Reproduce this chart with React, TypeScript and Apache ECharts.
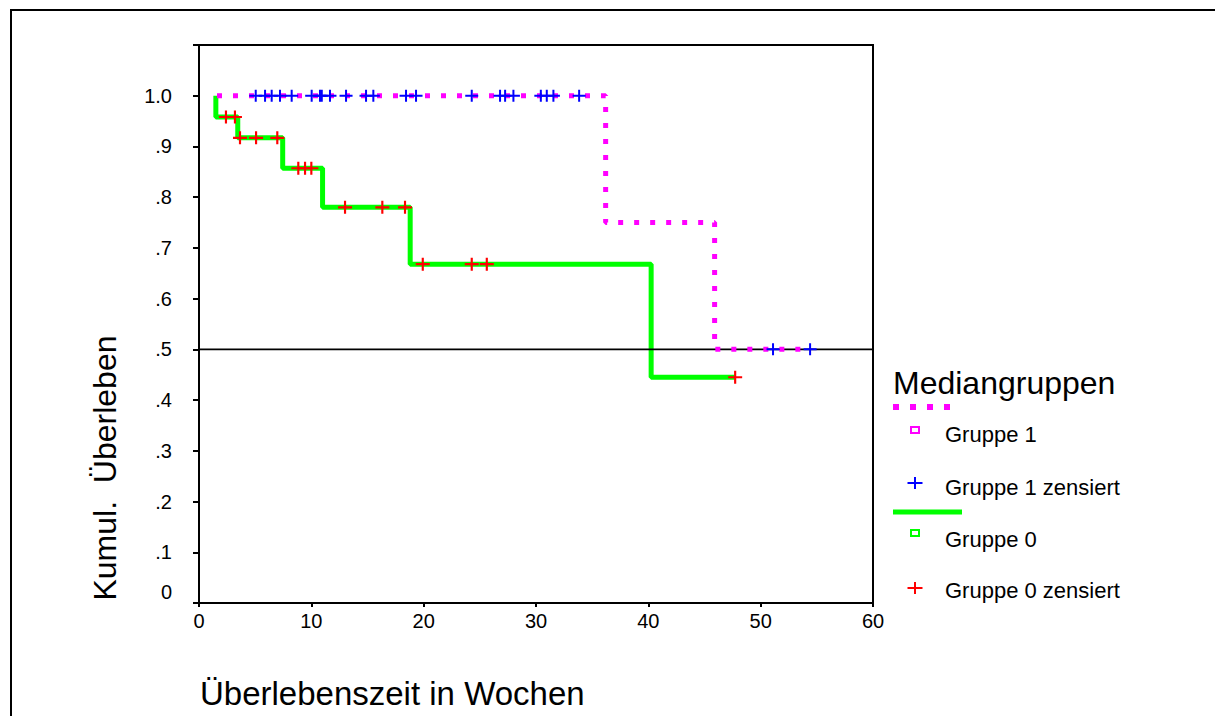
import React, { useEffect, useRef } from "react";
import * as echarts from "echarts";

// Group 1 (Mediangruppe 1): Kaplan-Meier steps
const group1Times = [1.6, 36.2, 45.9, 54.4];
const group1Surv = [1.0, 0.75, 0.5, 0.5];
// Group 1 censored observations
const group1CensorTimes = [5.05, 5.88, 6.47, 7.21, 8.25, 10.03, 10.77, 10.93, 11.66, 13.09, 14.87, 15.52, 18.43, 19.32, 24.28, 26.8, 27.25, 27.99, 30.43, 30.96, 31.55, 33.84, 51.1, 54.4];
const group1CensorSurv = [1, 1, 1, 1, 1, 1, 1, 1, 1, 1, 1, 1, 1, 1, 1, 1, 1, 1, 1, 1, 1, 1, 0.5, 0.5];

// Group 0 (Mediangruppe 0)
const group0Times = [1.5, 1.5, 3.45, 7.45, 11.0, 18.8, 40.25, 47.7];
const group0Surv = [1.0, 0.958, 0.917, 0.857, 0.78, 0.668, 0.445, 0.445];
const group0CensorTimes = [2.4, 3.2, 3.65, 5.08, 6.97, 8.84, 9.44, 10.0, 13.0, 16.32, 18.34, 19.92, 24.28, 25.62, 47.73];
const group0CensorSurv = [0.958, 0.958, 0.917, 0.917, 0.917, 0.857, 0.857, 0.857, 0.78, 0.78, 0.78, 0.668, 0.668, 0.668, 0.445];

const medianLine = 0.5;
const xTicks = { min: 0, max: 60, interval: 10 };
const yTicks = { min: 0, max: 1.1, interval: 0.1 };

const FONT = "'Liberation Sans', Arial, sans-serif";
const PLUS = "path://M0,5 L13,5 L13,7 L0,7 Z M5.5,0 L7.5,0 L7.5,12 L5.5,12 Z";

const zip = (a: number[], b: number[]) => a.map((v, i) => [v, b[i]]);

export default function App() {
  const ref = useRef<HTMLDivElement>(null);
  useEffect(() => {
    if (!ref.current) return;
    const chart = echarts.init(ref.current, null, { renderer: "svg" });
    const plus = (cx: number, cy: number, color: string) => [
      { type: "line", shape: { x1: cx - 7.5, y1: cy, x2: cx + 7.5, y2: cy }, style: { stroke: color, lineWidth: 2 } },
      { type: "line", shape: { x1: cx, y1: cy - 6, x2: cx, y2: cy + 6 }, style: { stroke: color, lineWidth: 2 } },
    ];
    const txt = (x: number, y: number, text: string, size: number, extra: any = {}) => ({
      type: "text",
      x,
      y,
      ...extra,
      style: { text, fill: "#000", font: `${size}px ${FONT}`, textVerticalAlign: "middle", ...(extra.style || {}) },
    });
    chart.setOption({
      animation: false,
      backgroundColor: "#fff",
      grid: { left: 199, top: 45, width: 674, height: 558, show: true, borderColor: "#000", borderWidth: 2 },
      xAxis: {
        type: "value",
        ...xTicks,
        axisLine: { show: true, lineStyle: { color: "#000", width: 2 } },
        axisTick: { show: true, length: 4, lineStyle: { color: "#000", width: 2 } },
        splitLine: { show: false },
        axisLabel: { color: "#000", fontFamily: FONT, fontSize: 20, margin: 8 },
      },
      yAxis: {
        type: "value",
        ...yTicks,
        axisLine: { show: true, lineStyle: { color: "#000", width: 2 } },
        axisTick: { show: true, length: 6, lineStyle: { color: "#000", width: 2 } },
        splitLine: { show: false },
        axisLabel: {
          color: "#000",
          fontFamily: FONT,
          fontSize: 20,
          margin: 27,
          formatter: (v: number) => {
            if (v > 1.05) return "";
            if (v < 0.05) return "{z|0}";
            if (v > 0.95) return "1.0";
            return "." + Math.round(v * 10);
          },
          rich: { z: { fontFamily: FONT, fontSize: 20, color: "#000", padding: [0, 0, 22, 0] } },
        },
      },
      series: [
        {
          type: "line",
          step: "end",
          data: zip(group0Times, group0Surv),
          symbol: "none",
          z: 2,
          lineStyle: { color: "#00FF00", width: 5 },
        },
        {
          type: "line",
          data: [[xTicks.min, medianLine], [xTicks.max, medianLine]],
          symbol: "none",
          z: 3,
          lineStyle: { color: "#000", width: 1.8 },
        },
        {
          type: "line",
          step: "end",
          data: zip(group1Times, group1Surv),
          symbol: "none",
          z: 4,
          lineStyle: { color: "#FF00FF", width: 5, type: [5, 11], cap: "butt" },
        },
        {
          type: "scatter",
          data: zip(group0CensorTimes, group0CensorSurv),
          symbol: PLUS,
          symbolSize: [14, 13],
          z: 5,
          itemStyle: { color: "#FF0000", opacity: 1 },
        },
        {
          type: "scatter",
          data: zip(group1CensorTimes, group1CensorSurv),
          symbol: PLUS,
          symbolSize: [13, 12],
          z: 5,
          itemStyle: { color: "#0000FF", opacity: 1 },
        },
      ],
      graphic: [
        { type: "rect", shape: { x: 11, y: 10, width: 1230, height: 740 }, style: { fill: "none", stroke: "#000", lineWidth: 2 }, silent: true },
        txt(105, 468, "Kumul.  Überleben", 32, { rotation: Math.PI / 2, style: { textAlign: "center" } }),
        txt(200, 693, "Überlebenszeit in Wochen", 33),
        txt(893, 383, "Mediangruppen", 32),
        { type: "line", shape: { x1: 893, y1: 407, x2: 952, y2: 407 }, style: { stroke: "#FF00FF", lineWidth: 6, lineDash: [6, 11] } },
        { type: "rect", shape: { x: 911, y: 427, width: 8, height: 6 }, style: { fill: "none", stroke: "#FF00FF", lineWidth: 2 } },
        txt(945, 434, "Gruppe 1", 22),
        ...plus(915, 483, "#0000FF"),
        txt(945, 487, "Gruppe 1 zensiert", 22),
        { type: "line", shape: { x1: 893, y1: 512, x2: 962, y2: 512 }, style: { stroke: "#00FF00", lineWidth: 5 } },
        { type: "rect", shape: { x: 911, y: 530, width: 8, height: 6 }, style: { fill: "none", stroke: "#00FF00", lineWidth: 2 } },
        txt(945, 539, "Gruppe 0", 22),
        ...plus(915, 588, "#FF0000"),
        txt(945, 590, "Gruppe 0 zensiert", 22),
      ],
    });
    return () => chart.dispose();
  }, []);
  return <div ref={ref} style={{ position: "fixed", left: 0, top: 0, width: 1215, height: 716 }} />;
}
